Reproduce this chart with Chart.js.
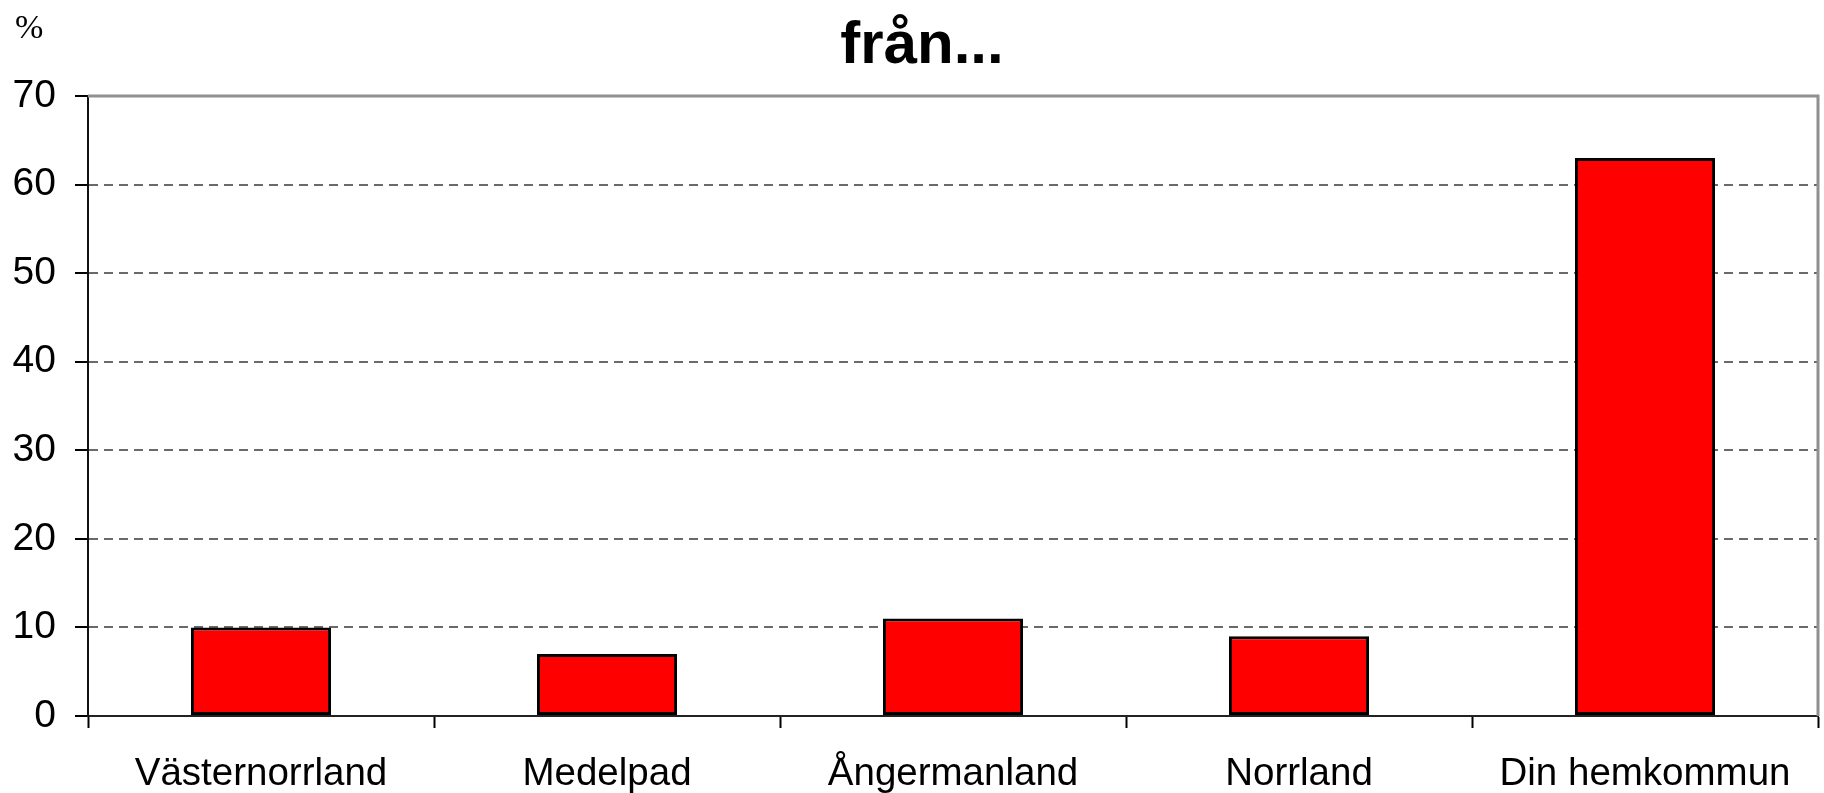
<!DOCTYPE html>
<html>
<head>
<meta charset="utf-8">
<script src="https://cdn.jsdelivr.net/npm/chart.js@4"></script>
<style>
html,body{margin:0;padding:0;background:#fff;}
#wrap{width:1824px;height:793px;position:relative;}
</style>
</head>
<body>
<div id="wrap"><canvas id="c" width="1824" height="793"></canvas></div>
<script>
const categories = ["Västernorrland", "Medelpad", "Ångermanland", "Norrland", "Din hemkommun"];
const values = [10, 7, 11, 9, 63];
const yTicks = [0, 10, 20, 30, 40, 50, 60, 70];
const titleText = "från...";
const unitLabel = "%";

const frame = {
  id: 'frame',
  afterDraw(chart) {
    const {ctx, chartArea: a} = chart;
    ctx.save();
    ctx.strokeStyle = '#909090';
    ctx.lineWidth = 3;
    ctx.beginPath();
    ctx.moveTo(a.left, a.top);
    ctx.lineTo(a.right, a.top);
    ctx.lineTo(a.right, a.bottom);
    ctx.stroke();
    ctx.fillStyle = '#000';
    ctx.font = '34px "Liberation Serif", "Times New Roman", serif';
    ctx.textBaseline = 'alphabetic';
    ctx.textAlign = 'left';
    ctx.fillText(unitLabel, 15, 38);
    ctx.font = 'bold 60px "Liberation Sans", Arial, sans-serif';
    ctx.textAlign = 'center';
    ctx.fillText(titleText, 922, 63);
    ctx.restore();
  }
};

new Chart(document.getElementById('c'), {
  type: 'bar',
  data: {
    labels: categories,
    datasets: [{
      data: values,
      backgroundColor: '#ff0000',
      borderColor: '#000000',
      borderWidth: 3,
      borderSkipped: false,
      categoryPercentage: 1,
      barPercentage: 0.405
    }]
  },
  options: {
    responsive: false,
    animation: false,
    layout: {padding: {left: 0, right: 6, top: 96, bottom: 0}},
    plugins: {
      legend: {display: false},
      tooltip: {enabled: false},
      title: {display: false}
    },
    scales: {
      x: {
        offset: true,
        grid: {
          display: true,
          offset: true,
          drawOnChartArea: false,
          drawTicks: true,
          tickLength: 12,
          tickColor: '#000',
          tickWidth: 2
        },
        border: {display: true, color: '#222', width: 2},
        ticks: {
          color: '#000',
          padding: 23,
          maxRotation: 0,
          autoSkip: false,
          font: {family: '"Liberation Sans", Arial, sans-serif', size: 38.5}
        },
        afterFit(scale) { scale.height = 77; }
      },
      y: {
        min: 0,
        max: 70,
        afterBuildTicks(scale) { scale.ticks = yTicks.map(v => ({value: v})); },
        grid: {
          color: ctx => (ctx.tick && (ctx.tick.value === 0 || ctx.tick.value === 70)) ? 'rgba(0,0,0,0)' : '#6a6a6a',
          lineWidth: 2,
          drawTicks: true,
          tickLength: 13,
          tickColor: '#000',
          tickWidth: 2
        },
        border: {display: true, color: '#111', width: 2, dash: [9, 6]},
        ticks: {
          color: '#000',
          padding: 19,
          font: {family: '"Liberation Sans", Arial, sans-serif', size: 39}
        },
        afterFit(scale) { scale.width = 88; }
      }
    }
  },
  plugins: [frame]
});
</script>
</body>
</html>
